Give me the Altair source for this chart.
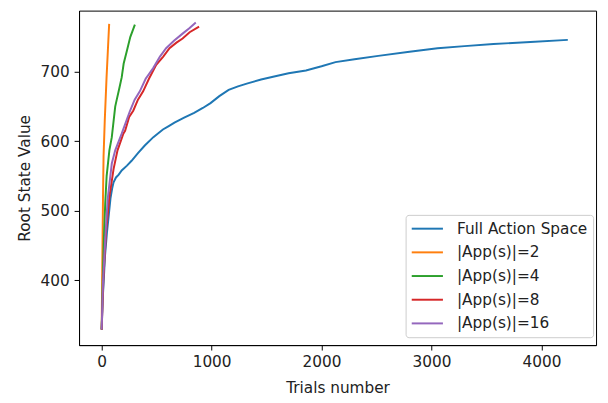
import altair as alt
import pandas as pd

series_names = ["Full Action Space", "|App(s)|=2", "|App(s)|=4", "|App(s)|=8", "|App(s)|=16"]
colors = ["#1f77b4", "#ff7f0e", "#2ca02c", "#d62728", "#9467bd"]

full_x = [0, 8, 18, 30, 48, 65, 80, 95, 108, 130, 155, 182, 230, 272, 330, 392, 470, 557, 610, 662, 750, 841, 920, 990, 1070, 1155, 1240, 1320, 1450, 1559, 1700, 1858, 2000, 2127, 2300, 2516, 2800, 3055, 3300, 3564, 3900, 4240]
full_y = [329, 370, 398, 435, 469, 495, 518, 532, 541, 548, 552, 558, 565, 572, 583, 594, 606, 617, 622, 627, 634, 641, 648, 655, 665, 674, 679, 683, 689, 693, 698, 702, 708, 714, 718, 723, 729, 734, 737, 740, 743, 746]

app2_x = [0, 4, 8, 12, 17, 28, 44, 56, 68]
app2_y = [329, 400, 460, 520, 578, 630, 691, 730, 769]

app4_x = [0, 10, 20, 32, 45, 70, 92, 123, 137, 160, 182, 200, 227, 260, 302]
app4_y = [329, 400, 460, 510, 550, 587, 606, 650, 660, 676, 692, 712, 729, 750, 768]

app8_x = [0, 15, 40, 70, 108, 144, 197, 213, 250, 287, 330, 377, 430, 496, 560, 617, 680, 736, 800, 886]
app8_y = [329, 400, 470, 520, 560, 587, 611, 615, 635, 644, 660, 672, 690, 710, 722, 734, 742, 748, 757, 765]

app16_x = [0, 12, 36, 54, 92, 123, 182, 237, 258, 300, 347, 400, 467, 530, 586, 660, 736, 800, 856]
app16_y = [329, 398, 469, 516, 568, 587, 611, 635, 644, 660, 672, 690, 705, 722, 734, 745, 755, 763, 771]

x_ticks = [0, 1000, 2000, 3000, 4000]
y_ticks = [400, 500, 600, 700]

rows = []
for name, xs, ys in zip(series_names,
                        [full_x, app2_x, app4_x, app8_x, app16_x],
                        [full_y, app2_y, app4_y, app8_y, app16_y]):
    for i, (a, b) in enumerate(zip(xs, ys)):
        rows.append({"series": name, "trials": a, "value": b, "idx": i})
df = pd.DataFrame(rows)

font = "DejaVu Sans"
fs = 15.5

chart = alt.Chart(df).mark_line(strokeWidth=2, clip=True).encode(
    x=alt.X("trials:Q",
            scale=alt.Scale(domain=[-206, 4497], nice=False, zero=False),
            axis=alt.Axis(title="Trials number", values=x_ticks, format="d", grid=False,
                          tickSize=5, labelPadding=5, titlePadding=11,
                          labelFontSize=fs, titleFontSize=fs, labelFont=font, titleFont=font,
                          titleFontWeight="normal", labelColor="#222", titleColor="#222",
                          domainColor="#000", tickColor="#000", labelFlush=False)),
    y=alt.Y("value:Q",
            scale=alt.Scale(domain=[306.7, 788.1], nice=False, zero=False),
            axis=alt.Axis(title="Root State Value", values=y_ticks, format="d", grid=False,
                          tickSize=5, labelPadding=5, titlePadding=8,
                          labelFontSize=fs, titleFontSize=fs, labelFont=font, titleFont=font,
                          titleFontWeight="normal", labelColor="#222", titleColor="#222",
                          domainColor="#000", tickColor="#000", labelFlush=False)),
    color=alt.Color("series:N",
                    scale=alt.Scale(domain=series_names, range=colors),
                    legend=alt.Legend(title=None, orient="none", legendX=331, legendY=207,
                                      symbolType="M-2,0H2", symbolStrokeWidth=2, symbolSize=250,
                                      symbolOffset=8,
                                      labelFontSize=fs, labelFont=font, labelColor="#222",
                                      labelOffset=21, rowPadding=6, padding=5,
                                      strokeColor="#cccccc", fillColor="white", cornerRadius=3)),
    order=alt.Order("idx:Q"),
).properties(
    width=524, height=339,
    padding={"left": 72, "top": 0, "right": 4, "bottom": 55},
    autosize=alt.AutoSizeParams(type="none"),
).configure_view(stroke="#000", strokeWidth=1)

chart.save("out.html", embed_options={"renderer": "svg", "actions": False})
